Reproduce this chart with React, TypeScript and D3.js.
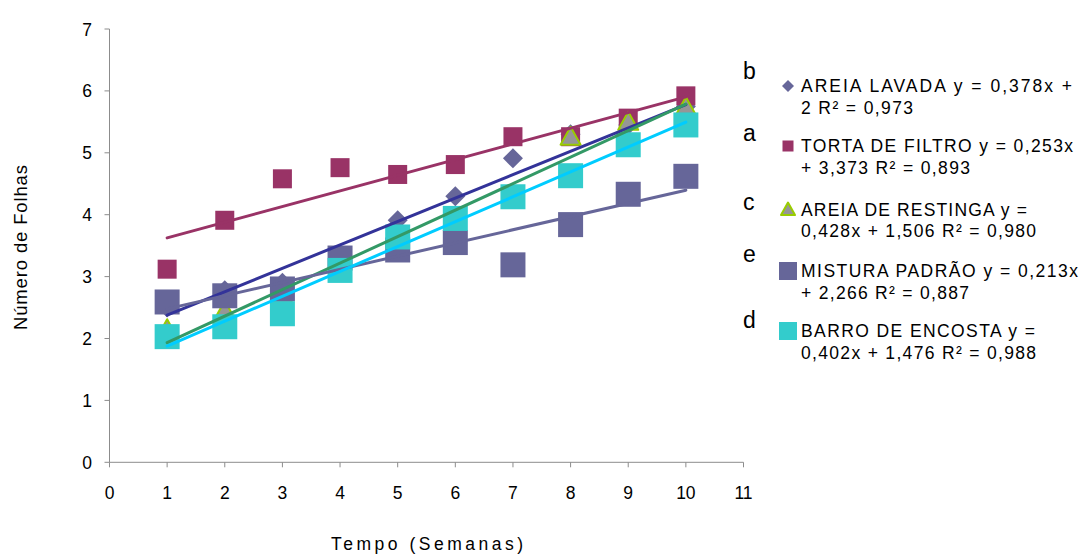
import React from "react";
import * as d3 from "d3";

const weeks = [1, 2, 3, 4, 5, 6, 7, 8, 9, 10];
const areiaLavada = [2.5, 2.78, 2.9, 3.35, 3.91, 4.3, 4.91, 5.3, 5.45, 5.75];
const tortaFiltro = [3.12, 3.91, 4.58, 4.76, 4.65, 4.81, 5.26, 5.26, 5.56, 5.92];
const areiaRestinga = [2.15, 2.45, 2.7, 3.2, 3.6, 3.95, 4.24, 5.26, 5.5, 5.74];
const misturaPadrao = [2.59, 2.69, 2.8, 3.3, 3.43, 3.55, 3.19, 3.84, 4.33, 4.62];
const barroEncosta = [2.03, 2.19, 2.4, 3.1, 3.64, 3.94, 4.29, 4.63, 5.13, 5.45];

const slopes = [0.378, 0.253, 0.428, 0.213, 0.402];
const intercepts = [2, 3.373, 1.506, 2.266, 1.476];
const groupLetters = ["b", "a", "c", "e", "d"];
const legendLines = [
  ["AREIA LAVADA y = 0,378x +", "2 R² = 0,973"],
  ["TORTA DE FILTRO y = 0,253x", "+ 3,373 R² = 0,893"],
  ["AREIA DE RESTINGA y =", "0,428x + 1,506 R² = 0,980"],
  ["MISTURA PADRÃO y = 0,213x", "+ 2,266 R² = 0,887"],
  ["BARRO DE ENCOSTA y =", "0,402x + 1,476 R² = 0,988"],
];
const legendWidths = [
  [271, 112],
  [272, 169],
  [226, 235],
  [277, 168],
  [234, 235],
];
const xTicks = [0, 1, 2, 3, 4, 5, 6, 7, 8, 9, 10, 11];
const yTicks = [0, 1, 2, 3, 4, 5, 6, 7];

const seriesData = [areiaLavada, tortaFiltro, areiaRestinga, misturaPadrao, barroEncosta];
const markerKinds = ["diamond", "smallSquare", "triangle", "bigSquare", "bigSquare"];
const markerFill = ["#666699", "#993366", "#969696", "#666699", "#33CCCC"];
const markerStroke = ["none", "none", "#99CC00", "none", "none"];
const lineColors = ["#333399", "#993366", "#339966", "#666699", "#00CCFF"];

const FONT = "'Liberation Sans', Arial, Helvetica, sans-serif";

function Marker({ kind, cx, cy, fill, stroke, legend }: any) {
  if (kind === "diamond") {
    const r = legend ? 6 : 10;
    return <path d={`M${cx},${cy - r}L${cx + r},${cy}L${cx},${cy + r}L${cx - r},${cy}Z`} fill={fill} />;
  }
  if (kind === "smallSquare") {
    const h = legend ? 5.5 : 9.5;
    return <rect x={cx - h} y={cy - h} width={2 * h} height={2 * h} fill={fill} />;
  }
  if (kind === "bigSquare") {
    const h = legend ? 9 : 12.5;
    return <rect x={cx - h} y={cy - h} width={2 * h} height={2 * h} fill={fill} />;
  }
  const r = legend ? 7 : 10;
  return (
    <path
      d={`M${cx},${cy - r}L${cx + r},${cy + r * 0.8}L${cx - r},${cy + r * 0.8}Z`}
      fill={fill}
      stroke={stroke}
      strokeWidth={2}
      strokeLinejoin="round"
    />
  );
}

export default function App() {
  const x = d3.scaleLinear().domain([0, 11]).range([109.5, 743.5]);
  const y = d3.scaleLinear().domain([0, 7]).range([462.3, 29]);
  const axisColor = "#8c8c8c";

  const legendRowY = [92, 152, 215.5, 277, 337];
  const letterY = [79, 141, 210, 262, 328];

  return (
    <svg
      width={1081}
      height={556}
      style={{ position: "absolute", left: 0, top: 0, background: "#fff" }}
      fontFamily={FONT}
    >
      {/* axes */}
      <line x1={x(0)} x2={x(0)} y1={y(7)} y2={y(0)} stroke={axisColor} strokeWidth={1} />
      <line x1={x(0)} x2={x(11)} y1={y(0)} y2={y(0)} stroke={axisColor} strokeWidth={1} />
      {yTicks.map((t) => (
        <g key={"y" + t}>
          <line x1={x(0) - 5} x2={x(0)} y1={y(t)} y2={y(t)} stroke={axisColor} />
          <text x={92} y={y(t) + 6.5} textAnchor="end" fontSize={17.5} fill="#000">
            {t}
          </text>
        </g>
      ))}
      {xTicks.map((t) => (
        <g key={"x" + t}>
          <line x1={x(t)} x2={x(t)} y1={y(0)} y2={y(0) + 5} stroke={axisColor} />
          <text x={x(t)} y={499} textAnchor="middle" fontSize={17.5} fill="#000">
            {t}
          </text>
        </g>
      ))}
      <text
        transform={`translate(26.5,330) rotate(-90)`}
        fontSize={18.5}
        fill="#000"
        textLength={165}
        lengthAdjust="spacing"
      >
        Número de Folhas
      </text>
      <text x={331} y={549.5} fontSize={17.5} fill="#000" textLength={192} lengthAdjust="spacing">
        Tempo (Semanas)
      </text>

      {/* markers */}
      {seriesData.map((vals, si) => (
        <g key={"s" + si}>
          {vals.map((v, i) => (
            <Marker
              key={i}
              kind={markerKinds[si]}
              cx={x(weeks[i])}
              cy={y(v)}
              fill={markerFill[si]}
              stroke={markerStroke[si]}
            />
          ))}
        </g>
      ))}

      {/* trend lines */}
      {slopes.map((m, si) => {
        const x0 = weeks[0];
        const x1 = weeks[weeks.length - 1];
        return (
          <line
            key={"t" + si}
            x1={x(x0)}
            y1={y(m * x0 + intercepts[si])}
            x2={x(x1)}
            y2={y(m * x1 + intercepts[si])}
            stroke={lineColors[si]}
            strokeWidth={3}
            strokeLinecap="round"
          />
        );
      })}

      {/* legend */}
      {legendLines.map((lines, i) => (
        <g key={"l" + i}>
          <text x={743} y={letterY[i]} fontSize={23} fill="#000">
            {groupLetters[i]}
          </text>
          <Marker
            kind={markerKinds[i]}
            cx={788}
            cy={legendRowY[i] - 6}
            fill={markerFill[i]}
            stroke={markerStroke[i]}
            legend
          />
          <text x={801} y={legendRowY[i]} fontSize={17.5} fill="#000" textLength={legendWidths[i][0]} lengthAdjust="spacing">
            {lines[0]}
          </text>
          <text x={801} y={legendRowY[i] + 21.5} fontSize={17.5} fill="#000" textLength={legendWidths[i][1]} lengthAdjust="spacing">
            {lines[1]}
          </text>
        </g>
      ))}
    </svg>
  );
}
